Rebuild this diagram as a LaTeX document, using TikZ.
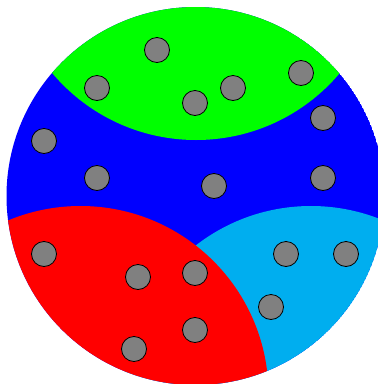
\documentclass[tikz,border=0pt]{standalone}
\usepackage{tikz}
\definecolor{regblue}{RGB}{0,0,255}
\definecolor{reggreen}{RGB}{0,255,0}
\definecolor{regred}{RGB}{255,0,0}
\definecolor{regcyan}{RGB}{0,174,239}
\definecolor{dotgray}{RGB}{128,128,128}
\tikzset{
  dot/.style={circle, draw=black, fill=dotgray, line width=0.8pt, minimum size=25pt, inner sep=0pt},
  region/.style={draw=none}
}
\begin{document}
\begin{tikzpicture}[x=1pt,y=-1pt]
\useasboundingbox (0,0) rectangle (378,384);
\begin{scope}
  \clip (195.5,196) circle[radius=189pt];
  \fill[regblue] (195.5,196) circle[radius=189pt];
  \fill[regcyan] (311,394) circle[radius=188pt];
  \fill[regred] (80.5,394) circle[radius=188pt];
  \fill[reggreen] (196,-48) circle[radius=188pt];
\end{scope}
\node[dot] (d1) at (157,50) {};
\node[dot] (d2) at (97,88) {};
\node[dot] (d3) at (195,103) {};
\node[dot] (d4) at (233,88) {};
\node[dot] (d5) at (301,73) {};
\node[dot] (d6) at (323,118) {};
\node[dot] (d7) at (44,141) {};
\node[dot] (d8) at (97,178) {};
\node[dot] (d9) at (214,186) {};
\node[dot] (d10) at (323,178) {};
\node[dot] (d11) at (44,254) {};
\node[dot] (d12) at (138,277) {};
\node[dot] (d13) at (195,273) {};
\node[dot] (d14) at (286,254) {};
\node[dot] (d15) at (346,254) {};
\node[dot] (d16) at (271,307) {};
\node[dot] (d17) at (195,330) {};
\node[dot] (d18) at (134,349) {};
\end{tikzpicture}
\end{document}
